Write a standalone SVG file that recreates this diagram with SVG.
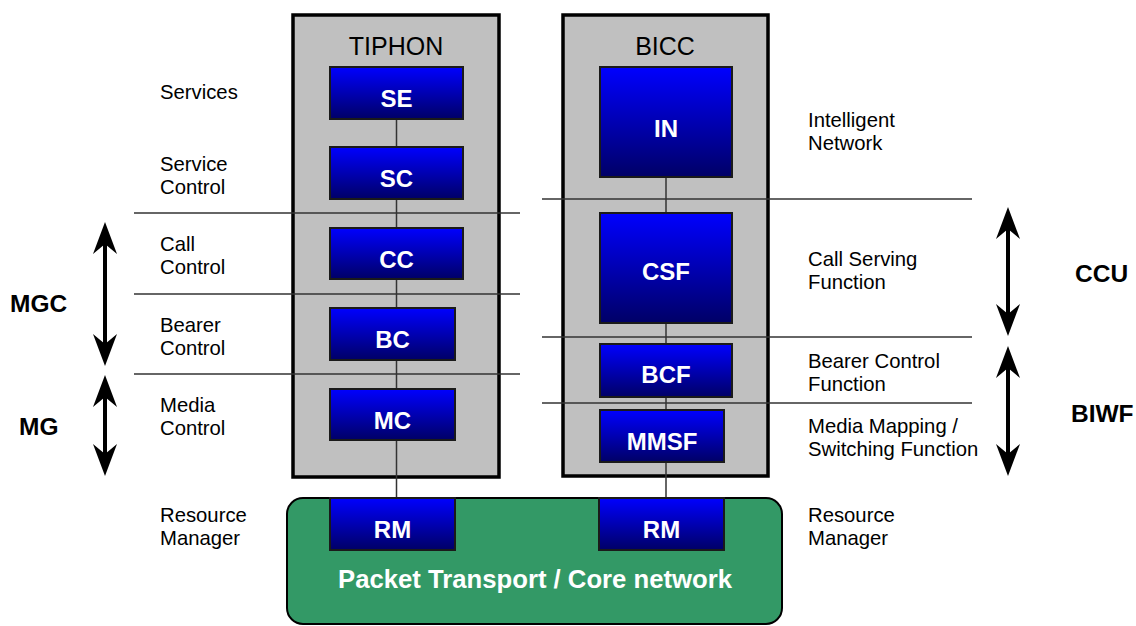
<svg xmlns="http://www.w3.org/2000/svg" width="1136" height="626" viewBox="0 0 1136 626">
<style>
.panel{fill:#c0c0c0;stroke:#000;stroke-width:3.5}
.box{fill:url(#blue);stroke:#1a1a1a;stroke-width:2}
.lbl{font-family:"Liberation Sans",Arial,sans-serif;font-weight:bold;font-size:24px;fill:#fff;text-anchor:middle}
.core{font-size:25.7px}
.ttl{font-family:"Liberation Sans",Arial,sans-serif;font-size:25px;fill:#000;text-anchor:middle}
.txt{font-family:"Liberation Sans",Arial,sans-serif;font-size:20.3px;fill:#000}
.big{font-family:"Liberation Sans",Arial,sans-serif;font-weight:bold;font-size:24.5px;fill:#000}
.sep{stroke:#333;stroke-width:1.5;fill:none}
.conn{stroke:#333;stroke-width:1.5;fill:none}
.arr{stroke:#000;stroke-width:4;fill:none;marker-start:url(#head);marker-end:url(#head)}
</style>
<defs>
<linearGradient id="blue" x1="0" y1="0" x2="0" y2="1">
<stop offset="0" stop-color="#0000ff"/>
<stop offset="1" stop-color="#000066"/>
</linearGradient>
<marker id="head" markerUnits="userSpaceOnUse" viewBox="0 0 32 24" markerWidth="32" markerHeight="24" refX="12" refY="12" orient="auto-start-reverse">
<path d="M0,0 L32,12 L0,24 L10,12 Z" fill="#000"/>
</marker>
</defs>
<rect width="1136" height="626" fill="#fff"/>

<g id="panel-tiphon"><rect class="panel" x="293" y="15" width="206" height="462"/><text class="ttl" x="396" y="55">TIPHON</text></g>
<g id="panel-bicc"><rect class="panel" x="563" y="15" width="205" height="461"/><text class="ttl" x="665" y="55">BICC</text></g>
<g id="core"><rect x="287" y="498" width="495" height="126" rx="16" fill="#339966" stroke="#000" stroke-width="2"/><text class="lbl core" x="535" y="588">Packet Transport / Core network</text></g>

<g id="separators">
<line class="sep" x1="134" y1="213" x2="520" y2="213"/>
<line class="sep" x1="134" y1="294" x2="520" y2="294"/>
<line class="sep" x1="134" y1="374" x2="520" y2="374"/>
<line class="sep" x1="542" y1="199" x2="972" y2="199"/>
<line class="sep" x1="542" y1="337" x2="972" y2="337"/>
<line class="sep" x1="542" y1="403" x2="972" y2="403"/>
</g>

<g id="connectors">
<line class="conn" x1="396.5" y1="119" x2="396.5" y2="498"/>
<line class="conn" x1="666" y1="177" x2="666" y2="498"/>
<line class="arr" x1="105" y1="242" x2="105" y2="346"/>
<line class="arr" x1="105" y1="395" x2="105" y2="456"/>
<line class="arr" x1="1008" y1="227" x2="1008" y2="316"/>
<line class="arr" x1="1008" y1="366" x2="1008" y2="456"/>
</g>

<g id="SE"><rect class="box" x="330" y="67" width="133" height="52"/><text class="lbl" x="396.5" y="107">SE</text></g>
<g id="SC"><rect class="box" x="330" y="147" width="133" height="52"/><text class="lbl" x="396.5" y="187">SC</text></g>
<g id="CC"><rect class="box" x="330" y="228" width="133" height="51"/><text class="lbl" x="396.5" y="268">CC</text></g>
<g id="BC"><rect class="box" x="330" y="308" width="125" height="52"/><text class="lbl" x="392.5" y="348">BC</text></g>
<g id="MC"><rect class="box" x="330" y="389" width="125" height="51"/><text class="lbl" x="392.5" y="429">MC</text></g>
<g id="RM1"><rect class="box" x="330" y="498" width="125" height="52"/><text class="lbl" x="392.5" y="538">RM</text></g>

<g id="IN"><rect class="box" x="600" y="67" width="132" height="110"/><text class="lbl" x="666" y="137">IN</text></g>
<g id="CSF"><rect class="box" x="600" y="213" width="132" height="110"/><text class="lbl" x="666" y="280">CSF</text></g>
<g id="BCF"><rect class="box" x="600" y="344" width="132" height="53"/><text class="lbl" x="666" y="383">BCF</text></g>
<g id="MMSF"><rect class="box" x="600" y="410" width="124" height="52"/><text class="lbl" x="662" y="450">MMSF</text></g>
<g id="RM2"><rect class="box" x="599" y="498" width="125" height="52"/><text class="lbl" x="661.5" y="538">RM</text></g>

<g id="left-labels">
<text class="txt" x="160" y="99">Services</text>
<text class="txt" x="160" y="171">Service</text><text class="txt" x="160" y="194">Control</text>
<text class="txt" x="160" y="251">Call</text><text class="txt" x="160" y="274">Control</text>
<text class="txt" x="160" y="332">Bearer</text><text class="txt" x="160" y="355">Control</text>
<text class="txt" x="160" y="412">Media</text><text class="txt" x="160" y="435">Control</text>
<text class="txt" x="160" y="522">Resource</text><text class="txt" x="160" y="545">Manager</text>
<text class="big" x="10" y="312">MGC</text>
<text class="big" x="19" y="435">MG</text>
</g>

<g id="right-labels">
<text class="txt" x="808" y="127">Intelligent</text><text class="txt" x="808" y="150">Network</text>
<text class="txt" x="808" y="266">Call Serving</text><text class="txt" x="808" y="289">Function</text>
<text class="txt" x="808" y="368">Bearer Control</text><text class="txt" x="808" y="391">Function</text>
<text class="txt" x="808" y="433">Media Mapping /</text><text class="txt" x="808" y="456">Switching Function</text>
<text class="txt" x="808" y="522">Resource</text><text class="txt" x="808" y="545">Manager</text>
<text class="big" x="1075" y="282">CCU</text>
<text class="big" x="1071" y="422">BIWF</text>
</g>
</svg>
